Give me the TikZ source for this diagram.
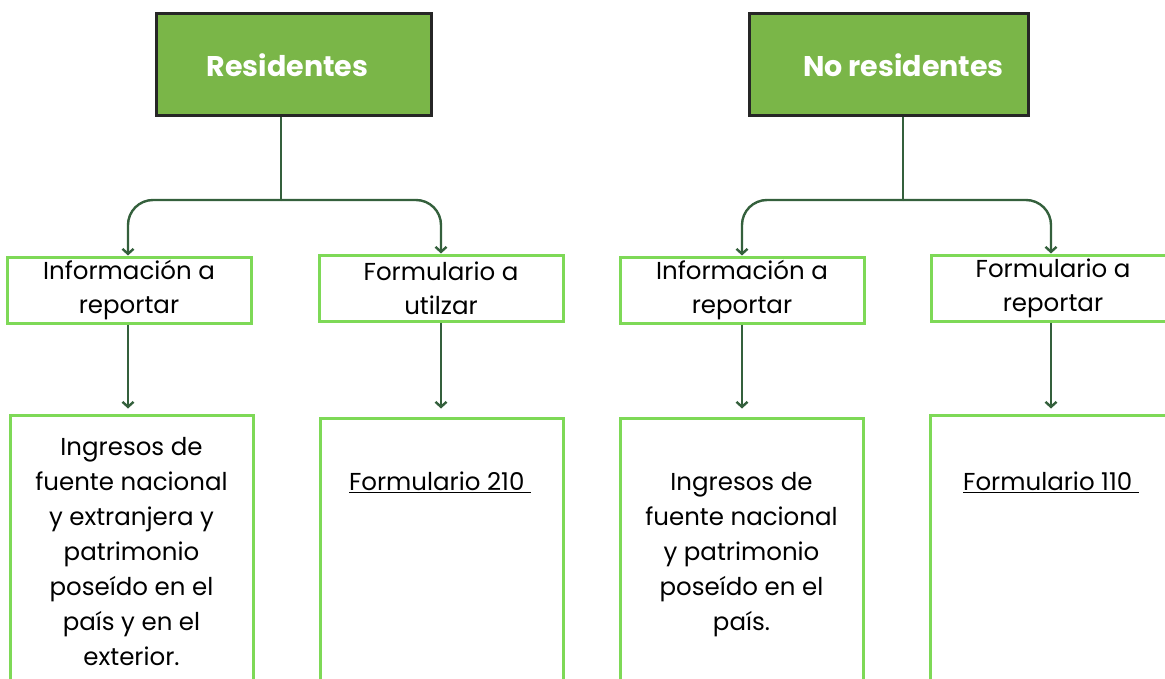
\documentclass[tikz,border=0pt]{standalone}
\usepackage{fontspec}
\setmainfont{Poppins}
\usetikzlibrary{arrows.meta,calc}
\definecolor{headfill}{HTML}{7AB648}
\definecolor{headline}{HTML}{262626}
\definecolor{boxline}{HTML}{7ED957}
\definecolor{linkline}{HTML}{34603C}

\begin{document}
\begin{tikzpicture}[x=1pt, y=-1pt,
		head/.style={draw=headline, line width=3pt, fill=headfill, text=white,
			font=\fontsize{28.5}{32}\selectfont\bfseries, minimum height=102pt, inner sep=0pt},
		tag/.style={draw=boxline, line width=3pt, fill=white, align=center,
			font=\fontsize{24.5}{34}\selectfont, minimum width=244pt, minimum height=65pt, inner sep=0pt},
		detail/.style={draw=boxline, line width=3pt, fill=white, align=center,
			font=\fontsize{24.5}{35}\selectfont, minimum width=243pt, inner sep=0pt},
		stem/.style={draw=linkline, line width=2.4pt},
		link/.style={stem, -{Straight Barb[length=5pt,width=11pt]}, rounded corners=25pt, shorten >=1pt}]
			%%%%% START %%%%%
			
			\clip (0, 0) rectangle (1165, 679);
			\fill[white] (0, 0) rectangle (1165, 679);
			
			% heads
			\node[head, minimum width=275pt] (res) at (293.5, 65) {\hspace*{-12pt}Residentes};
			\node[head, minimum width=279pt] (nores) at (888.5, 65) {\hspace*{30pt}No residentes};
			
			% second row
			\node[tag] (resinfo) at (129, 290.5) {Información a\\reportar};
			\node[tag] (resform) at (441, 288.5) {Formulario a\\utilzar};
			\node[tag] (noinfo) at (742, 290.5) {Información a\\reportar};
			\node[tag] (noform) at (1053, 288.5) {Formulario a\\reportar};
			
			% third row
			\node[detail, minimum height=274pt] (resdet) at (131.5, 552) {Ingresos de\\fuente nacional\\y extranjera y\\patrimonio\\poseído en el\\país y en el\\exterior.};
			\node[detail, minimum height=272pt] (resnum) at (441.5, 554) {};
			\node[font=\fontsize{24.5}{35}\selectfont] (resnumtxt) at (440, 482) {\underline{Formulario 210\ }};
			\node[detail, minimum height=273pt] (nodet) at (741.5, 554.5) {Ingresos de\\fuente nacional\\y patrimonio\\poseído en el\\país.};
			\node[detail, minimum height=274pt] (nonum) at (1051.5, 552) {};
			\node[font=\fontsize{24.5}{35}\selectfont] (nonumtxt) at (1051, 482) {\underline{Formulario 110\ }};
			
			% forks
			\coordinate (resfork) at (281, 200);
			\coordinate (nofork) at (903, 200);
			
			\draw[stem] (res.south -| resfork) -- (resfork);
			\draw[link] (resfork) -| ($(resinfo.north)+(-1, 0)$);
			\draw[link] (resfork) -| (resform.north);
			
			\draw[stem] (nores.south -| nofork) -- (nofork);
			\draw[link] (nofork) -| (noinfo.north);
			\draw[link] (nofork) -| ($(noform.north)+(-2, 0)$);
			
			% down to the details
			\draw[link] ($(resinfo.south)+(-1, 0)$) -- ($(resdet.north)+(-3.5, -4)$);
			\draw[link] (resform.south) -- ($(resnum.north)+(-0.5, -7)$);
			\draw[link] (noinfo.south) -- ($(nodet.north)+(0.5, -7)$);
			\draw[link] ($(noform.south)+(-2, 0)$) -- ($(nonum.north)+(-0.5, -4)$);
			
			%%%%% END %%%%%
\end{tikzpicture}
\end{document}
